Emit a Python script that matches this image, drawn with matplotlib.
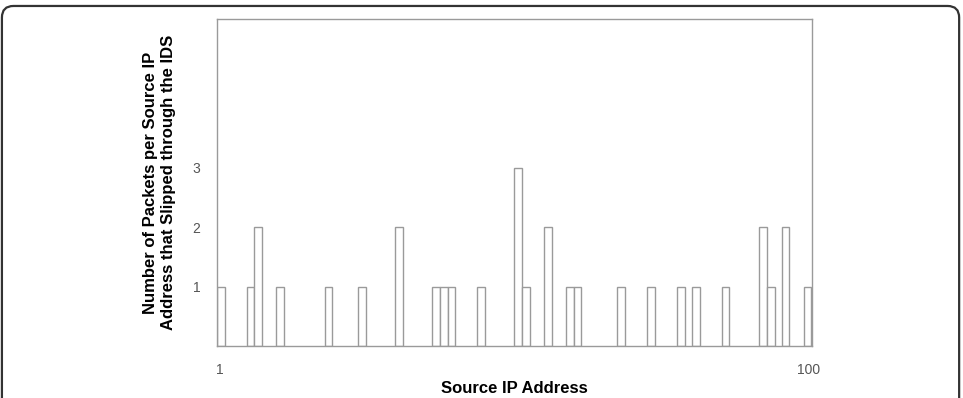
import matplotlib.pyplot as plt
from matplotlib.patches import FancyBboxPatch

plt.rcParams['font.family'] = ['Liberation Sans', 'DejaVu Sans']

# source IP positions and packet counts
addresses = [1.2, 6.2, 7.4, 11.2, 19.3, 24.9, 31.2, 37.4, 38.7, 40.0, 45.0, 51.2, 52.5,
             56.2, 59.9, 61.2, 68.5, 73.6, 78.6, 81.1, 86.1, 92.4, 93.7, 96.2, 99.9]
packets = [1, 1, 2, 1, 1, 1, 2, 1, 1, 1, 1, 3, 1,
           2, 1, 1, 1, 1, 1, 1, 1, 2, 1, 2, 1]
x_ticks = [1, 100]
y_ticks = [1, 2, 3]

fig = plt.figure(figsize=(9.63, 3.98), dpi=100)

# rounded frame around the whole figure
frame = FancyBboxPatch((0.002, -0.2), 0.994, 1.185, boxstyle="round,pad=0,rounding_size=0.012",
                       transform=fig.transFigure, fill=False, edgecolor='#333333', linewidth=1.6,
                       mutation_aspect=963 / 398)
fig.patches.append(frame)

ax = fig.add_axes([0.2253, 0.1307, 0.6176, 0.8216])
ax.bar(addresses, packets, width=1.3, facecolor='white', edgecolor='#9a9a9a', linewidth=1.0)

ax.set_xlim(0.55, 100.6)
ax.set_ylim(0, 5.5)
ax.set_xticks(x_ticks)
ax.set_yticks(y_ticks)
ax.tick_params(length=0, labelsize=10, labelcolor='#555555')
ax.tick_params(axis='x', pad=12)
ax.tick_params(axis='y', pad=12)
for s in ax.spines.values():
    s.set_color('#9a9a9a')
    s.set_linewidth(1.0)

ax.set_xlabel('Source IP Address', fontsize=12, fontweight='bold', labelpad=3)
ax.set_ylabel('Number of Packets per Source IP\nAddress that Slipped through the IDS',
              fontsize=12, fontweight='bold', labelpad=12, linespacing=1.25)

fig.savefig('out.png', dpi=100)
